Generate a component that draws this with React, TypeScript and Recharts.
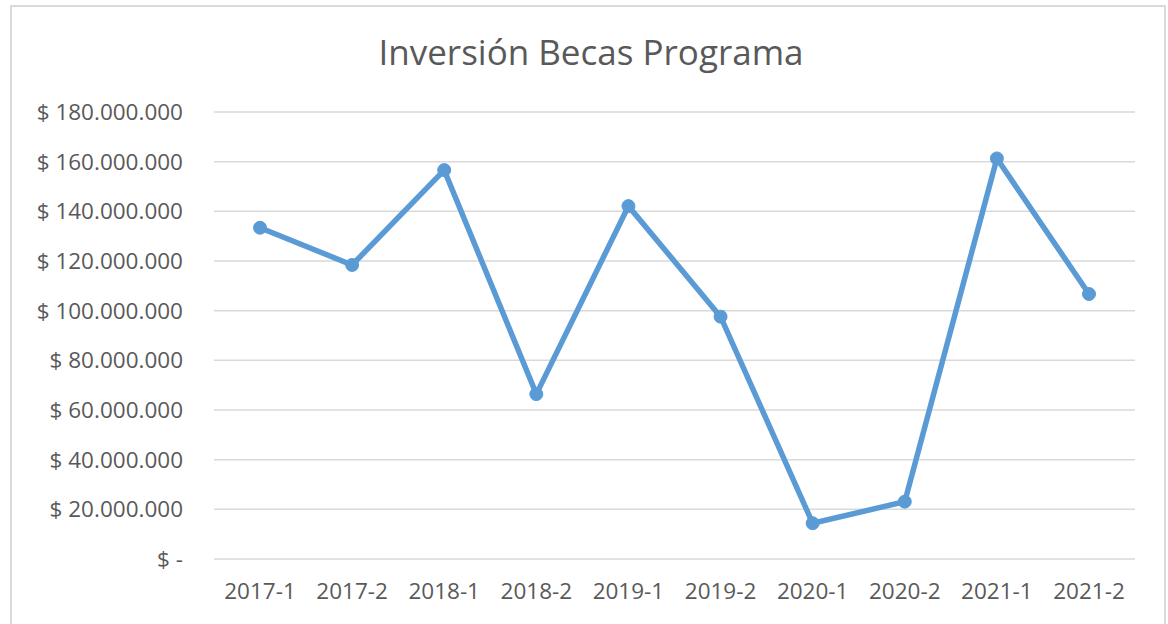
import { CartesianGrid, Line, LineChart, XAxis, YAxis } from "recharts";

const periods = ["2017-1", "2017-2", "2018-1", "2018-2", "2019-1", "2019-2", "2020-1", "2020-2", "2021-1", "2021-2"];
const inversion = [133400000, 118400000, 156600000, 66400000, 142100000, 97600000, 14400000, 23100000, 161300000, 106700000];
const yTicks = [0, 20000000, 40000000, 60000000, 80000000, 100000000, 120000000, 140000000, 160000000, 180000000];

const data = periods.map((p, i) => ({ periodo: p, valor: inversion[i] }));

const FONT = "'Open Sans', sans-serif";
const TEXT = "#595959";

// excel accounting style: "$ 180.000.000", zero shows as "$ -"
function money(v: number) {
  if (v === 0) return "$ -";
  return "$ " + String(Math.round(v)).replace(/\B(?=(\d{3})+(?!\d))/g, ".");
}

export default function App() {
  return (
    <div style={{ position: "absolute", left: 0, top: 0, width: 1168, height: 624, background: "#fff", fontFamily: FONT }}>
      <div
        style={{
          position: "absolute",
          left: 10,
          top: 5,
          width: 1152,
          height: 617,
          border: "2px solid #d9d9d9",
          borderBottom: "none",
        }}
      />
      <div
        style={{
          position: "absolute",
          left: 0,
          top: 30,
          width: 1182,
          lineHeight: "44px",
          textAlign: "center",
          fontSize: 35,
          color: TEXT,
        }}
      >
        Inversión Becas Programa
      </div>
      <div style={{ position: "absolute", left: 0, top: 0 }}>
        <LineChart width={1168} height={624} data={data} margin={{ top: 112, right: 33, bottom: 0, left: 0 }}>
          <CartesianGrid vertical={false} stroke="#d9d9d9" strokeWidth={1.5} />
          <XAxis
            dataKey="periodo"
            height={65}
            axisLine={false}
            tickLine={false}
            tickMargin={18}
            padding={{ left: 46, right: 46 }}
            interval={0}
            tick={{ fontSize: 22.5, fill: TEXT, fontFamily: FONT }}
          />
          <YAxis
            width={214}
            domain={[0, 180000000]}
            ticks={yTicks}
            axisLine={false}
            tickLine={false}
            tickMargin={25}
            tickFormatter={money}
            tick={{ fontSize: 22.5, fill: TEXT, fontFamily: FONT }}
          />
          <Line
            type="linear"
            dataKey="valor"
            stroke="#5b9bd5"
            strokeWidth={5.5}
            dot={{ r: 6.5, fill: "#5b9bd5", stroke: "#5b9bd5", strokeWidth: 1 }}
            isAnimationActive={false}
          />
        </LineChart>
      </div>
    </div>
  );
}
